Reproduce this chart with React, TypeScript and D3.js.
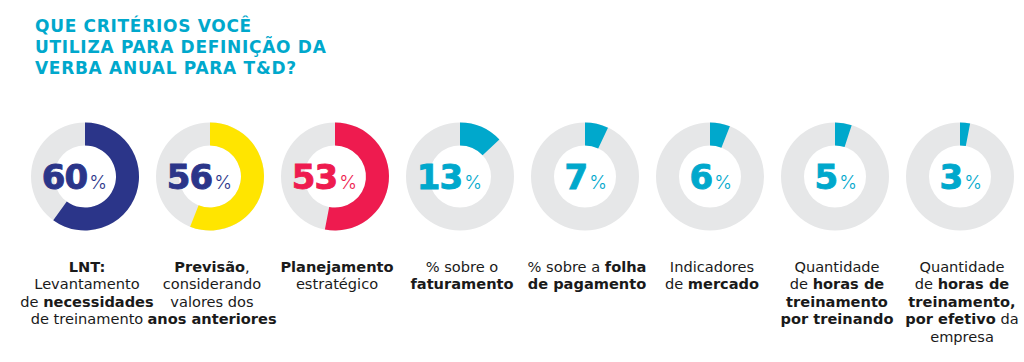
import * as d3 from "d3";

const titleLines = ["QUE CRITÉRIOS VOCÊ", "UTILIZA PARA DEFINIÇÃO DA", "VERBA ANUAL PARA T&D?"];

const categories = ["LNT", "Previsão", "Planejamento", "Faturamento", "Folha", "Mercado", "Horas treinando", "Horas efetivo"];
const values = [60, 56, 53, 13, 7, 6, 5, 3];
const arcColors = ["#2b3589", "#ffe500", "#ee1b4f", "#00a8cc", "#00a8cc", "#00a8cc", "#00a8cc", "#00a8cc"];
const numColors = ["#2b3589", "#2b3589", "#ee1b4f", "#00a8cc", "#00a8cc", "#00a8cc", "#00a8cc", "#00a8cc"];

// **bold** marks the bold parts of each line
const labels = [
  ["**LNT:**", "Levantamento", "de **necessidades**", "de treinamento"],
  ["**Previsão**,", "considerando", "valores dos", "**anos anteriores**"],
  ["**Planejamento**", "estratégico"],
  ["% sobre o", "**faturamento**"],
  ["% sobre a **folha**", "**de pagamento**"],
  ["Indicadores", "de **mercado**"],
  ["Quantidade", "de **horas de**", "**treinamento**", "**por treinando**"],
  ["Quantidade", "de **horas de**", "**treinamento,**", "**por efetivo** da", "empresa"],
];

const W = 1024;
const H = 362;

function parts(line: string) {
  return line.split("**").map((t, i) => ({ t, b: i % 2 === 1 })).filter((p) => p.t.length);
}

export default function App() {
  const x = d3.scaleBand<string>().domain(categories).range([22.5, 1022.5]);
  const angle = d3.scaleLinear().domain([0, 100]).range([0, 2 * Math.PI]);
  const rOut = 54;
  const rIn = 31;
  const cy = 176.5;
  const arc = d3.arc<{ s: number; e: number }>()
    .innerRadius(rIn)
    .outerRadius(rOut)
    .startAngle((d) => angle(d.s))
    .endAngle((d) => angle(d.e));

  return (
    <svg width={W} height={H} style={{ position: "absolute", left: 0, top: 0, background: "#fff" }}>
      <g fontFamily="DejaVu Sans" fontWeight={700} fontSize={17} fill="#00a8cc">
        {titleLines.map((l, i) => (
          <text key={i} x={35} y={32 + i * 21} letterSpacing={0.7}>{l}</text>
        ))}
      </g>
      {categories.map((c, i) => {
        const cx = x(c)! + x.bandwidth() / 2;
        return (
          <g key={c}>
            <g transform={`translate(${cx},${cy})`}>
              <path d={arc({ s: 0, e: 100 })!} fill="#e6e7e8" />
              <path d={arc({ s: 0, e: values[i] })!} fill={arcColors[i]} />
              <text x={22} y={12} textAnchor="end" fill={numColors[i]}>
                <tspan fontFamily="DejaVu Sans" fontSize={34} fontWeight={700} letterSpacing={-1}
                  stroke={numColors[i]} strokeWidth={0.9}>{values[i]}</tspan>
                <tspan fontFamily="Inter" fontSize={19} fontWeight={300} dx={2}>%</tspan>
              </text>
            </g>
            <text textAnchor="middle" fontFamily="DejaVu Sans" fontSize={14.6} fill="#1a1a1a">
              {labels[i].map((line, j) => (
                <tspan key={j} x={cx + 2} y={272 + j * 17.4}>
                  {parts(line).map((p, k) => (
                    <tspan key={k} fontWeight={p.b ? 700 : 400}>{p.t}</tspan>
                  ))}
                </tspan>
              ))}
            </text>
          </g>
        );
      })}
    </svg>
  );
}
